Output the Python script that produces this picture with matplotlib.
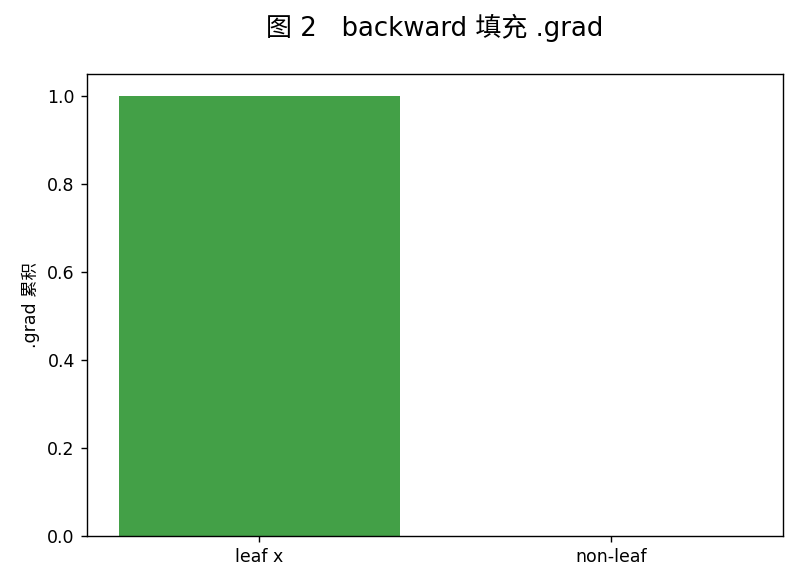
import matplotlib
matplotlib.use("Agg")
import matplotlib.pyplot as plt

plt.rcParams['font.family'] = ['DejaVu Sans', 'Noto Sans CJK SC']

categories = ["leaf x", "non-leaf"]
values = [1.0, 0.0]
title = "图 2   backward 填充 .grad"
ylabel = ".grad 累积"

fig = plt.figure(figsize=(7.99 / 1.25, 5.86 / 1.25), dpi=125)
ax = fig.add_axes([87 / 799, 1 - 536 / 586, (783 - 87) / 799, (536 - 74) / 586])
ax.bar(categories, values, width=0.8, color="#43a047")
ax.set_ylim(0, 1.05)
ax.set_title(title, fontsize=15, pad=22)
ax.set_ylabel(ylabel, fontsize=10)
ax.tick_params(labelsize=10)
fig.savefig("out.png", dpi=125)
